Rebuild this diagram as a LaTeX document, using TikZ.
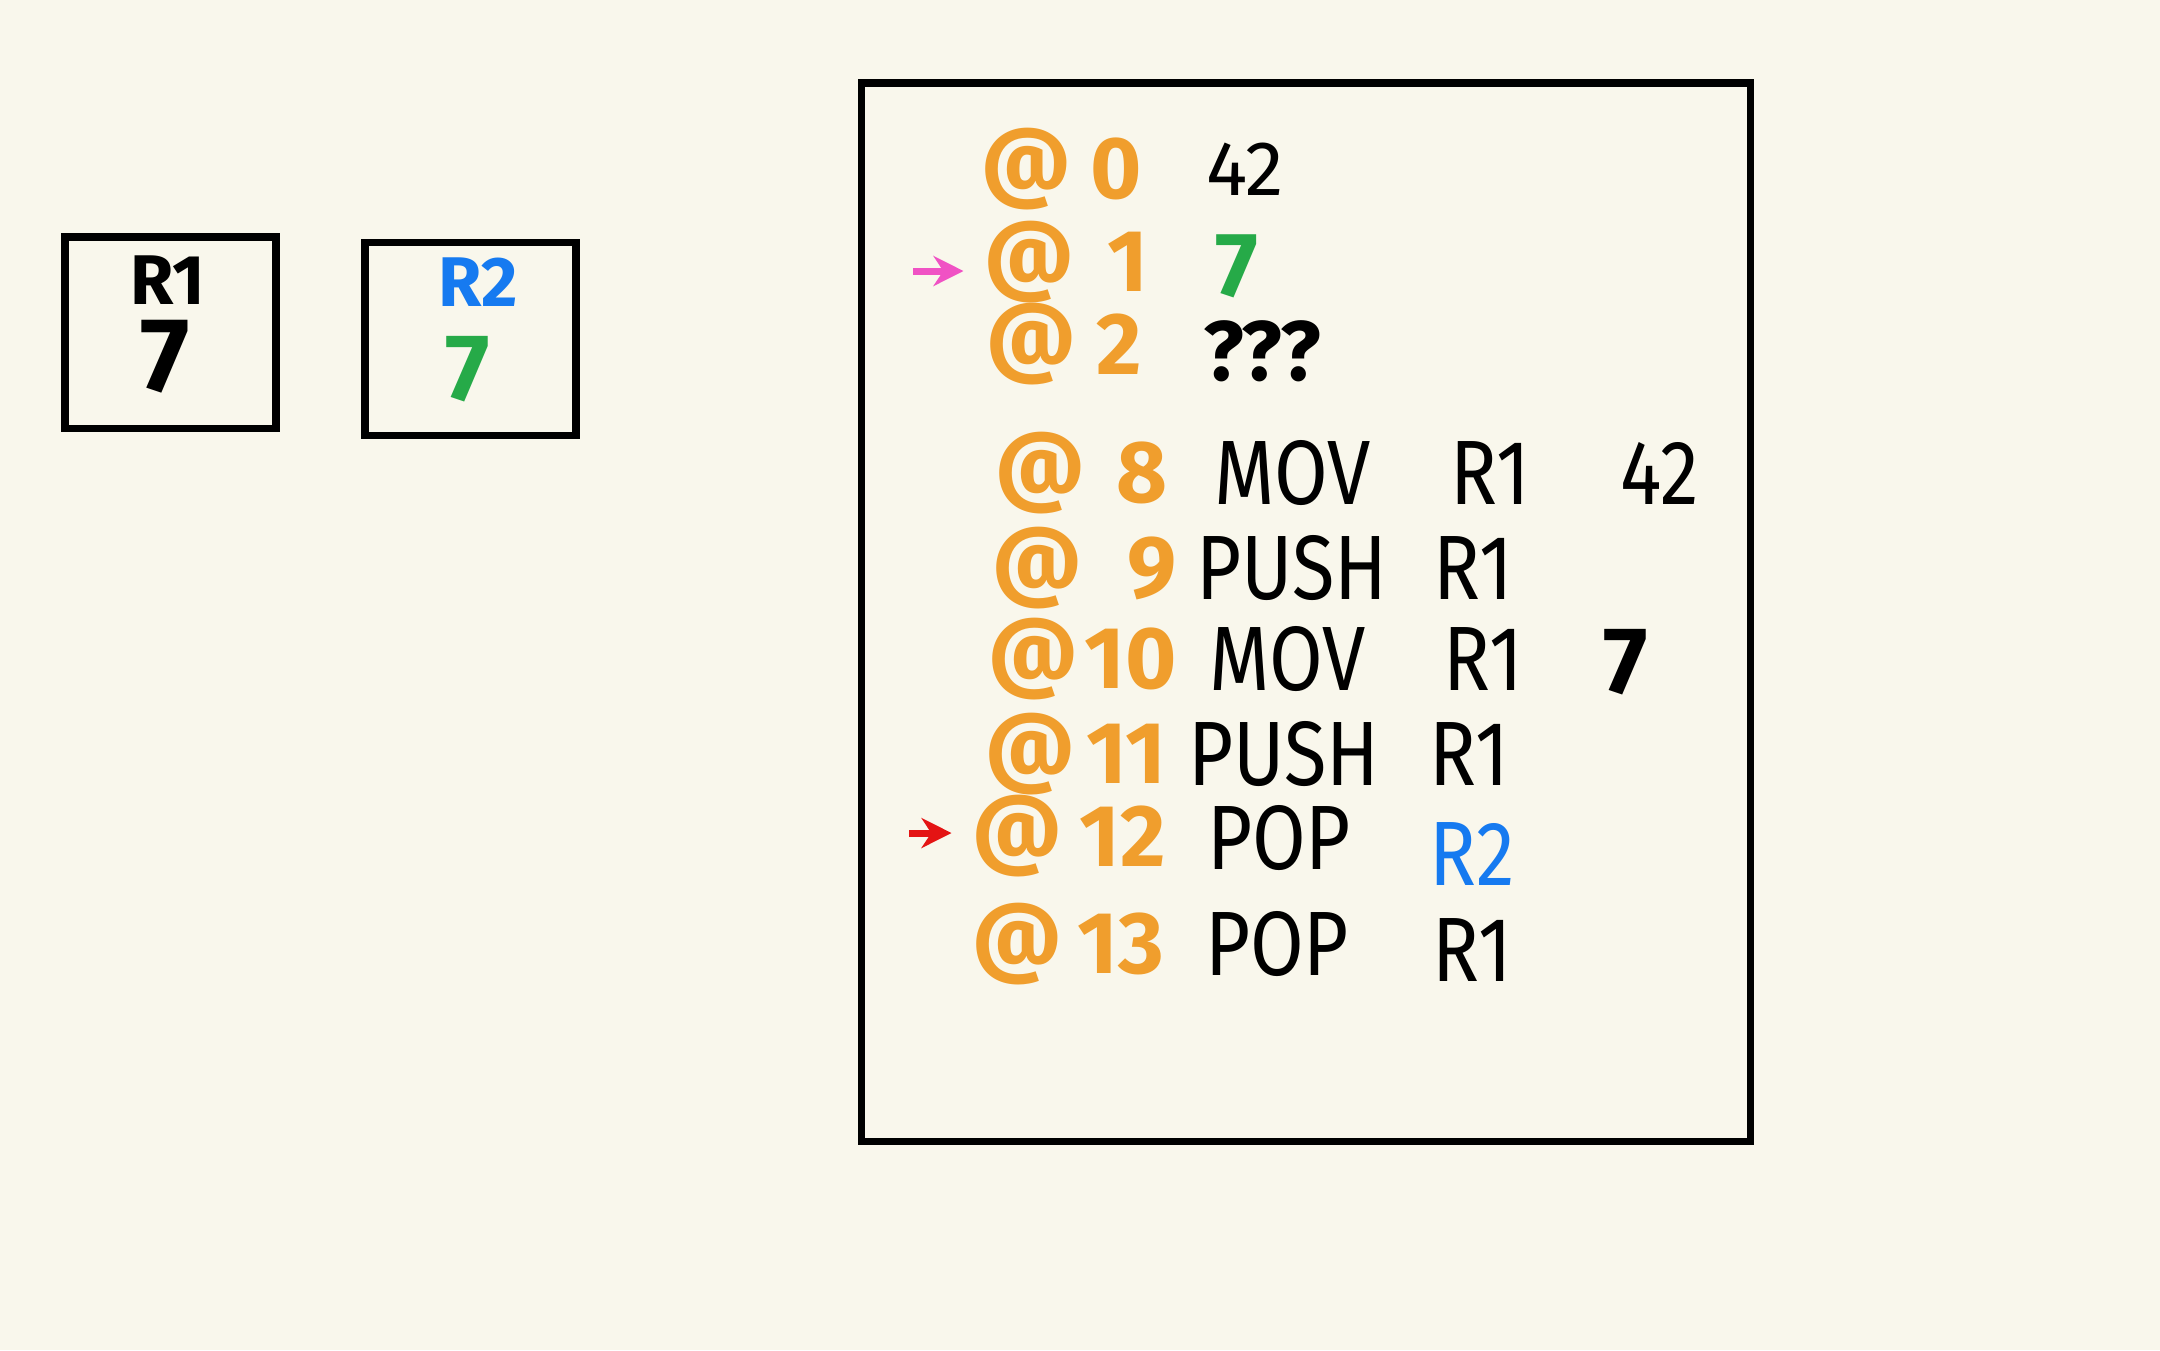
\documentclass[tikz,border=0pt]{standalone}
\usepackage{fontspec}
\setmainfont{Fira Sans}
\newfontfamily\handfont[FakeStretch=0.85]{Fira Sans}
\usetikzlibrary{arrows.meta, positioning}
\definecolor{paper}{RGB}{249, 247, 236}
\definecolor{addrorange}{RGB}{240, 158, 45}
\definecolor{valgreen}{RGB}{38, 170, 72}
\definecolor{regblue}{RGB}{22, 122, 240}
\definecolor{pcpink}{RGB}{240, 82, 196}
\definecolor{sppred}{RGB}{228, 20, 20}

\tikzset{
  regbox/.style={draw, line width=2pt, minimum width=2.11cm, minimum height=1.91cm, inner sep=0pt},
  membox/.style={draw, line width=2pt, minimum width=8.89cm, minimum height=10.58cm, inner sep=0pt},
  addr/.style={text=addrorange, font=\fontsize{25}{27}\selectfont\bfseries, inner sep=0pt},
  instr/.style={font=\handfont\fontsize{26}{28}\selectfont, inner sep=0pt},
  small/.style={font=\fontsize{20}{22}\selectfont\bfseries, inner sep=0pt},
  ptr/.style={-{Stealth[length=0.3cm, width=0.3cm]}, line width=2pt, shorten >=0.2cm}
}

\begin{document}
\begin{tikzpicture}
    % fond et cadre de la page
    \fill[paper] (0,0) rectangle (21.6,-13.5);
    \useasboundingbox (0,0) rectangle (21.6,-13.5);

    % les deux registres
    \node[regbox] (r1box) at (1.705,-3.325) {};
    \node[small] (r1name) at (1.68,-2.80) {R1};
    \node[instr, font=\fontsize{30}{32}\selectfont\bfseries] (r1val) at (1.65,-3.57) {7};

    \node[regbox, minimum height=1.93cm] (r2box) at (4.705,-3.385) {};
    \node[small, text=regblue] (r2name) at (4.78,-2.82) {R2};
    \node[instr, text=valgreen, font=\fontsize{27}{29}\selectfont\bfseries] (r2val) at (4.68,-3.69) {7};

    % la memoire
    \node[membox] (mem) at (13.055,-6.12) {};

    % donnees
    \node[addr] (at0) at (10.26,-1.69) {@};
    \node[addr] (n0) at (11.16,-1.69) {0};
    \node[instr, font=\fontsize{22}{24}\selectfont] (d0) at (12.45,-1.69) {42};

    \node[addr] (at1) at (10.29,-2.62) {@};
    \node[addr] (n1) at (11.28,-2.62) {1};
    \node[instr, text=valgreen, font=\fontsize{26}{28}\selectfont\bfseries] (d1) at (12.37,-2.66) {7};

    \node[addr] (at2) at (10.31,-3.44) {@};
    \node[addr] (n2) at (11.19,-3.44) {2};
    \node[instr, font=\fontsize{24}{26}\selectfont\bfseries] (d2) at (12.62,-3.51) {???};

    % programme
    \node[addr] (at8) at (10.40,-4.73) {@};
    \node[addr] (n8) at (11.42,-4.73) {8};
    \node[instr] (op8) at (12.93,-4.73) {MOV};
    \node[instr] (ra8) at (14.90,-4.73) {R1};
    \node[instr] (rb8) at (16.60,-4.73) {42};

    \node[addr] (at9) at (10.37,-5.68) {@};
    \node[addr] (n9) at (11.52,-5.68) {9};
    \node[instr] (op9) at (12.92,-5.68) {PUSH};
    \node[instr] (ra9) at (14.73,-5.68) {R1};

    \node[addr] (at10) at (10.33,-6.59) {@};
    \node[addr] (n10) at (11.31,-6.59) {10};
    \node[instr] (op10) at (12.88,-6.59) {MOV};
    \node[instr] (ra10) at (14.83,-6.59) {R1};
    \node[instr, font=\fontsize{27}{29}\selectfont\bfseries] (rb10) at (16.26,-6.62) {7};

    \node[addr] (at11) at (10.30,-7.54) {@};
    \node[addr] (n11) at (11.26,-7.54) {11};
    \node[instr] (op11) at (12.84,-7.54) {PUSH};
    \node[instr] (ra11) at (14.69,-7.54) {R1};

    \node[addr] (at12) at (10.17,-8.36) {@};
    \node[addr] (n12) at (11.23,-8.36) {12};
    \node[instr] (op12) at (12.79,-8.38) {POP};
    \node[instr, text=regblue] (ra12) at (14.72,-8.54) {R2};

    \node[addr] (at13) at (10.17,-9.44) {@};
    \node[addr] (n13) at (11.21,-9.44) {13};
    \node[instr] (op13) at (12.77,-9.44) {POP};
    \node[instr] (ra13) at (14.72,-9.50) {R1};

    % pointeurs
    \coordinate (pctail) at (9.13,-2.71);
    \draw[ptr, pcpink] (pctail) -- (at1.west |- pctail);
    \coordinate (sptail) at (9.09,-8.33);
    \draw[ptr, sppred] (sptail) -- (at12.west |- sptail);
\end{tikzpicture}
\end{document}
